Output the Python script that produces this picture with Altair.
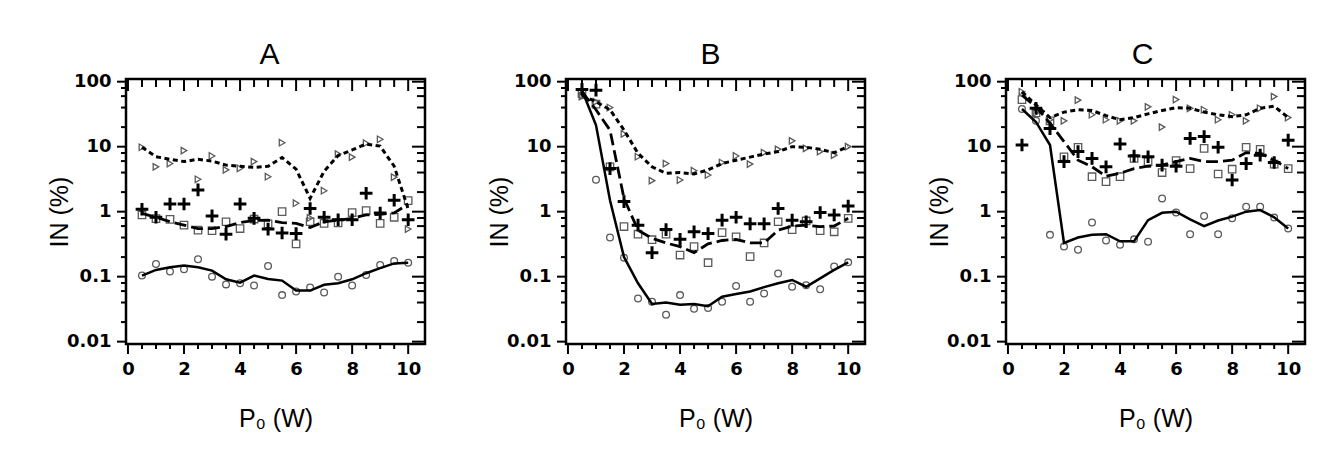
import altair as alt
import pandas as pd

# ---------------- data ----------------
P0 = [0.5, 1.0, 1.5, 2.0, 2.5, 3.0, 3.5, 4.0, 4.5, 5.0,
      5.5, 6.0, 6.5, 7.0, 7.5, 8.0, 8.5, 9.0, 9.5, 10.0]

# Panel A
circ_A = [0.104, 0.157, 0.12, 0.13, 0.185, 0.10, 0.076, 0.079, 0.073, 0.146,
          0.052, 0.059, 0.068, 0.057, 0.10, 0.073, 0.106, 0.151, 0.174, 0.164]
solid_A = [0.104, 0.127, 0.14, 0.148, 0.14, 0.124, 0.091, 0.081, 0.104, 0.092,
           0.087, 0.061, 0.061, 0.075, 0.079, 0.091, 0.113, 0.135, 0.16, 0.164]
sq_A = [0.89, 0.78, 0.76, 0.62, 0.52, 0.51, 0.70, 0.55, 0.77, 0.65,
        1.0, 0.32, 0.70, 0.66, 0.67, 0.97, 1.04, 0.66, 0.82, 1.48]
plus_A = [1.09, 0.82, 1.31, 1.31, 2.16, 0.86, 0.45, 1.31, 0.79, 0.54,
          0.47, 0.46, 1.12, 0.82, 0.75, 0.75, 1.92, 0.95, 1.5, 0.75]
dash_A = [0.94, 0.82, 0.70, 0.62, 0.55, 0.55, 0.59, 0.68, 0.73, 0.74,
          0.68, 0.66, 0.57, 0.70, 0.74, 0.79, 0.89, 0.91, 0.96, 1.3]
tri_A = [9.8, 4.9, 5.5, 8.7, 3.15, 7.2, 4.4, 4.65, 5.9, 3.45,
         11.5, 1.35, 0.8, 2.1, 7.7, 6.9, 11.3, 13.0, 3.4, 0.54]
dot_A = [9.8, 7.0, 6.4, 5.9, 6.4, 6.0, 5.2, 5.0, 4.8, 5.0,
         6.8, 4.5, 1.6, 4.2, 7.3, 8.9, 11.0, 10.2, 5.0, 1.1]

# Panel B
circ_B = [62, 3.1, 0.40, 0.196, 0.046, 0.041, 0.026, 0.052, 0.032, 0.033,
          0.041, 0.072, 0.041, 0.055, 0.112, 0.070, 0.074, 0.064, 0.143, 0.166]
solid_B = [74, 21.5, 1.5, 0.20, 0.079, 0.038, 0.040, 0.037, 0.038, 0.035,
           0.049, 0.054, 0.059, 0.069, 0.079, 0.089, 0.070, 0.094, 0.127, 0.166]
sq_B = [66, 45, 4.9, 0.59, 0.45, 0.37, 0.45, 0.215, 0.29, 0.164,
        0.475, 0.41, 0.203, 0.33, 0.70, 0.53, 0.72, 0.51, 0.49, 0.79]
plus_B = [76, 74, 4.6, 1.43, 0.62, 0.234, 0.53, 0.375, 0.49, 0.46,
          0.74, 0.82, 0.65, 0.65, 1.12, 0.74, 0.70, 0.97, 0.89, 1.22]
dash_B = [70, 37, 18, 1.6, 0.52, 0.39, 0.33, 0.29, 0.234, 0.32,
          0.36, 0.375, 0.33, 0.33, 0.52, 0.60, 0.62, 0.59, 0.60, 0.79]
tri_B = [59, 49, 40, 15.7, 7.0, 3.0, 5.5, 3.07, 4.27, 3.67,
         5.7, 7.2, 5.4, 8.1, 9.1, 12.3, 9.4, 8.4, 7.4, 10]
dot_B = [62, 49, 37, 18, 7.9, 4.9, 3.9, 4.0, 3.8, 4.4,
         5.5, 6.2, 6.9, 7.7, 8.4, 10, 9.8, 9.1, 8.1, 10]

# Panel C
circ_C = [38, 25, 0.44, 0.29, 0.26, 0.68, 0.36, 0.31, 0.375, 0.345,
          1.6, 0.97, 0.45, 0.86, 0.45, 0.79, 1.19, 1.19, 0.81, 0.55]
solid_C = [38, 24, 10.6, 0.33, 0.40, 0.44, 0.45, 0.35, 0.35, 0.74,
           0.96, 1.0, 0.76, 0.60, 0.73, 0.84, 1.0, 1.06, 0.82, 0.55]
sq_C = [53, 33, 25, 7.0, 9.8, 3.45, 2.9, 3.45, 6.6, 5.9,
        4.0, 6.1, 4.6, 9.4, 3.8, 4.5, 9.8, 9.1, 5.4, 4.6]
plus_C = [10.6, 39, 19, 5.9, 8.4, 6.6, 4.9, 11, 7.2, 7.0,
          5.2, 5.0, 13.4, 14.3, 9.8, 3.07, 5.5, 7.4, 5.7, 12.6]
dash_C = [62, 41, 23, 12, 6.2, 4.9, 3.5, 3.9, 4.6, 5.0,
          5.2, 5.9, 6.6, 5.9, 5.9, 6.2, 8.1, 7.9, 6.2, 4.6]
tri_C = [70, 33, 26, 25, 52, 31, 26, 25, 25, 41,
         20, 53, 39, 37, 26, 31, 25, 39, 59, 28]
dot_C = [70, 44, 28, 34, 37, 36, 30, 26, 28, 32,
         36, 40, 39, 34, 31, 29, 31, 39, 42, 28]

# axis labels / ticks
X_LABELS = [0, 2, 4, 6, 8, 10]
X_MINOR = [0.5, 1, 1.5, 2.5, 3, 3.5, 4.5, 5, 5.5, 6.5, 7, 7.5, 8.5, 9, 9.5]
Y_LABELS = [0.01, 0.1, 1, 10, 100]
Y_MINOR = [0.02, 0.04, 0.06, 0.08, 0.2, 0.4, 0.6, 0.8,
           2, 4, 6, 8, 20, 40, 60, 80]

W, H = 299, 265
GRAY = "#5a5a5a"


def XE():
    return alt.X("x:Q", scale=alt.Scale(domain=[-0.07, 10.6], nice=False, zero=False),
                 axis=alt.Axis(values=X_LABELS, format="d", title="P\u2080 (W)",
                               labelPadding=16, titlePadding=28, labelFlush=False))


def YE():
    return alt.Y("y:Q", scale=alt.Scale(type="log", domain=[0.0092, 110], nice=False),
                 axis=alt.Axis(values=Y_LABELS, format="~g", title="IN (%)",
                               labelPadding=15, titlePadding=-6))


def df(vals):
    return pd.DataFrame({"x": P0, "y": vals})


def vticks(vals, y0, y1):
    return alt.Chart(pd.DataFrame({"x": vals})).mark_rule(
        color="black", strokeWidth=2).encode(
        x=XE(), y=alt.value(y0), y2=alt.value(y1))


def hticks(vals, x0, x1):
    return alt.Chart(pd.DataFrame({"y": vals})).mark_rule(
        color="black", strokeWidth=2).encode(
        y=YE(), x=alt.value(x0), x2=alt.value(x1))


def markers(vals, shape, size, color=GRAY, sw=1.3):
    return alt.Chart(df(vals)).mark_point(
        shape=shape, filled=False, size=size, color=color,
        strokeWidth=sw, opacity=1).encode(x=XE(), y=YE())


def curve(vals, dash=None, sw=2.5):
    kw = dict(color="black", strokeWidth=sw)
    if dash:
        kw["strokeDash"] = dash
    return alt.Chart(df(vals)).mark_line(**kw).encode(x=XE(), y=YE())


def panel(title, dx, circ, solid, sq, plus, dash, tri, dot):
    layers = [
        markers(circ, "circle", 45),
        markers(sq, "square", 55),
        markers(tri, "triangle-right", 42),
        markers(plus, "M-1,0H1M0,-1V1", 160, color="black", sw=3),
        curve(solid, sw=2.5),
        curve(dash, dash=[12, 5], sw=2.8),
        curve(dot, dash=[5, 3.5], sw=3),
        vticks(X_LABELS, H, H + 10), vticks(X_MINOR, H, H + 5),
        vticks(X_LABELS, 0, 12), vticks(X_MINOR, 0, 8),
        hticks(Y_LABELS, -9, 0), hticks(Y_MINOR, -5, 0),
        hticks(Y_LABELS, W - 13, W), hticks(Y_MINOR, W - 8, W),
    ]
    return alt.layer(*layers).properties(
        width=W, height=H,
        title=alt.TitleParams(title, fontSize=30, font="Liberation Sans",
                              fontWeight="normal", color="black", offset=3, dx=dx))


chart = alt.hconcat(
    panel("A", -6, circ_A, solid_A, sq_A, plus_A, dash_A, tri_A, dot_A),
    panel("B", -5, circ_B, solid_B, sq_B, plus_B, dash_B, tri_B, dot_B),
    panel("C", -13, circ_C, solid_C, sq_C, plus_C, dash_C, tri_C, dot_C),
    spacing=141, bounds="flush",
).properties(
    padding={"left": 38, "top": 30, "right": 5, "bottom": 5},
    background="white",
).configure_view(
    stroke="black", strokeWidth=2.5
).configure_axis(
    domain=False, ticks=False, tickSize=0, grid=False,
    labelFont="DejaVu Sans", labelFontWeight="bold", labelFontSize=18,
    labelColor="black",
    titleFont="Liberation Sans", titleFontWeight="normal", titleFontSize=25,
    titleColor="black",
)

chart.save("out.html", embed_options={"renderer": "svg", "actions": False})
